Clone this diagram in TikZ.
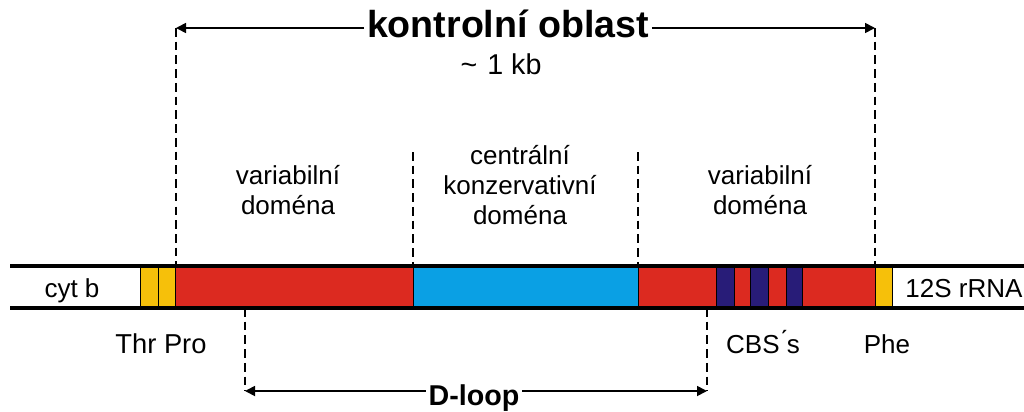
\documentclass[tikz,border=0pt]{standalone}
\usepackage{fontspec}
\setmainfont{Liberation Sans}
\usetikzlibrary{arrows.meta}

\definecolor{segred}{RGB}{220,42,32}
\definecolor{segblue}{RGB}{10,160,228}
\definecolor{segnavy}{RGB}{40,28,120}
\definecolor{segyellow}{RGB}{246,192,10}

\tikzset{
  lbl/.style={font=\fontsize{19.5}{22.5}\selectfont, inner sep=0pt, align=center},
  bigtitle/.style={font=\fontsize{28.2}{30}\selectfont\bfseries, inner sep=2pt},
  guide/.style={line width=1.6pt, dash pattern=on 6.5pt off 3.8pt},
  dim/.style={line width=1.3pt, -{Triangle[length=7.5pt,width=7.5pt]}},
  strand/.style={line width=3pt},
}

\begin{document}
\begin{tikzpicture}[x=0.75pt,y=-0.75pt]
  \useasboundingbox (0,0) rectangle (1024,411);

  % reference heights of the two strands
  \coordinate (top) at (0,266);
  \coordinate (bot) at (0,308);

  % coloured segments of the region
  \foreach \a/\b/\c in {140/158/segyellow, 158/175/segyellow, 175/413/segred,
                        413/638/segblue, 638/716/segred, 716/734/segnavy,
                        734/750/segred, 750/768/segnavy, 768/786/segred,
                        786/802/segnavy, 802/875/segred, 875/892/segyellow} {
      \filldraw[fill=\c, draw=black, line width=0.6pt] (\a,266) rectangle (\b,308);
  }

  % the two strands
  \draw[strand] (10,266) -- (1024,266);
  \draw[strand] (10,308) -- (1024,308);

  % labels inside and under the strand
  \node[lbl, anchor=base] (cytb) at (72,297) {cyt b};
  \node[lbl, anchor=base] (rrna) at (964,297) {12S rRNA};
  \node[lbl, font=\fontsize{20.5}{23}\selectfont, anchor=base] (thrpro) at (161,353) {Thr Pro};
  \node[lbl, anchor=base] (cbs) at (763,353) {CBS\'{}s};
  \node[lbl, anchor=base] (phe) at (887,353) {Phe};

  % domain labels
  \node[lbl] (varleft) at (288,190) {variabilní\\doména};
  \node[lbl] (central) at (520,185) {centrální\\konzervativní\\doména};
  \node[lbl] (varright) at (760,190) {variabilní\\doména};

  % control region
  \coordinate (kl) at (176,28);
  \coordinate (kr) at (875,28);
  \node[bigtitle, anchor=base] (kontrol) at (508,37) {kontrolní oblast};
  \node[lbl, font=\fontsize{21.5}{24}\selectfont, anchor=base] (kb) at (501,74) {\char"007E\hspace{0.35em}1 kb};
  \draw[dim] (kontrol.west |- kl) -- (kl);
  \draw[dim] (kontrol.east |- kr) -- (kr);
  \draw[guide] (kl) -- (kl |- top);
  \draw[guide] (kr) -- (kr |- top);

  % borders of the central domain
  \coordinate (cl) at (413,152);
  \coordinate (cr) at (638,152);
  \draw[guide] (cl) -- (cl |- top);
  \draw[guide] (cr) -- (cr |- top);

  % D-loop
  \coordinate (dl) at (245,391);
  \coordinate (dr) at (707,391);
  \node[bigtitle, font=\fontsize{21.5}{24}\selectfont\bfseries, anchor=base] (dloop) at (474,405) {D-loop};
  \draw[dim] (dloop.west |- dl) -- (dl);
  \draw[dim] (dloop.east |- dr) -- (dr);
  \draw[guide] (dl |- bot) -- (dl);
  \draw[guide] (dr |- bot) -- (dr);
\end{tikzpicture}
\end{document}
